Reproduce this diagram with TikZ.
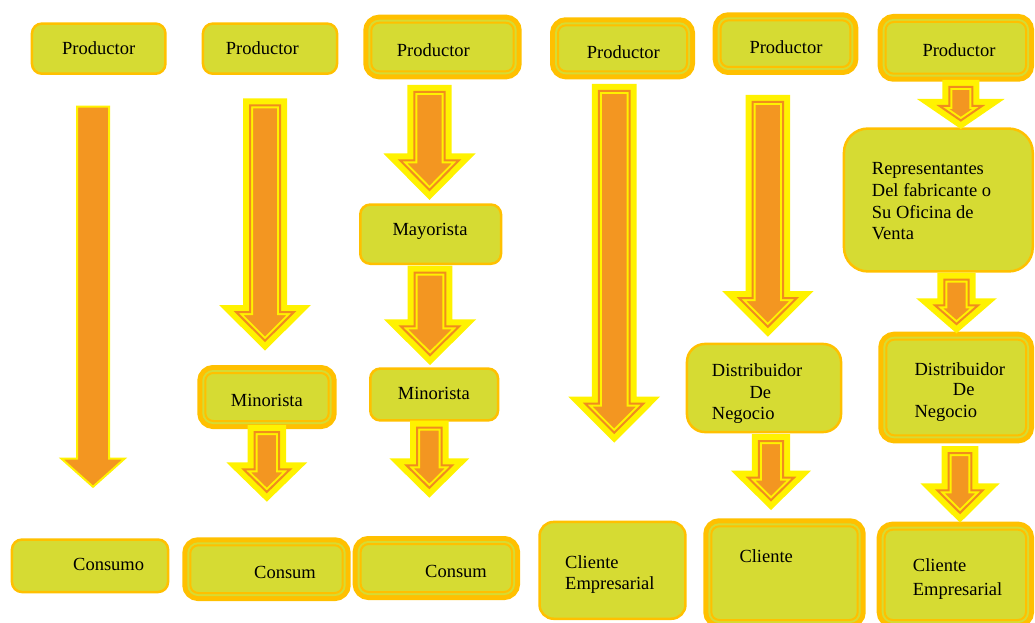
\documentclass[tikz,border=0pt]{standalone}
\usepackage{fontspec}
\setmainfont{Liberation Serif}
\definecolor{boxfill}{RGB}{214,219,51}
\definecolor{gold}{RGB}{255,192,0}
\definecolor{arrorange}{RGB}{243,150,33}
\definecolor{arrline}{RGB}{240,140,30}
\newcommand\tl[1]{\begin{tabular}[t]{@{}l@{}}#1\end{tabular}}
\tikzset{
 sbox/.style={rectangle, fill=boxfill, draw=gold, line width=2.5pt, inner sep=0pt, outer sep=0pt},
 dbox/.style={rectangle, rounded corners=8pt, fill=boxfill, draw=boxfill, line width=6pt, inner sep=0pt, outer sep=0pt,
   preaction={draw=gold, line width=16pt}, postaction={draw=gold, line width=2pt}},
 txt/.style={inner sep=0pt, anchor=base west, font=\fontsize{18.5}{21.5}\selectfont, text=black},
 farr/.style={fill=arrorange, draw=yellow, line width=6pt,
   preaction={fill=yellow, draw=yellow, line width=14pt}, postaction={draw=arrline, line width=2pt}},
 parr/.style={fill=arrorange, draw=yellow, line width=2pt},
}
% simple box: [radius]{x1}{y1}{x2}{y2}{name}
\newcommand\mkS[6][10]{\node[sbox, rounded corners=#1pt, minimum width={#4-#2-2.5}, minimum height={#5-#3-2.5}] (#6) at ({(#2+#4)/2},{(#3+#5)/2}) {};}
% double box: {x1}{y1}{x2}{y2}{name}
\newcommand\mkD[5]{\node[dbox, minimum width={#3-#1-16}, minimum height={#4-#2-16}] (#5) at ({(#1+#3)/2},{(#2+#4)/2}) {};}
% fancy arrow: {cx}{top}{headY}{tip}{shaft half}{head half} (outer sizes)
\newcommand\farrow[6]{%
 \pgfmathsetmacro\aT{#2+7}%
 \pgfmathsetmacro\aH{#3+7}%
 \pgfmathsetmacro\aTh{atan2(#4-#3,#6)}%
 \pgfmathsetmacro\aP{#4-7/cos(\aTh)}%
 \pgfmathsetmacro\aS{#5-7}%
 \pgfmathsetmacro\aW{#6-7/tan(\aTh/2)}%
 \path[farr] (#1-\aS,\aT) -- (#1+\aS,\aT) -- (#1+\aS,\aH) -- (#1+\aW,\aH) -- (#1,\aP) -- (#1-\aW,\aH) -- (#1-\aS,\aH) -- cycle;}
\begin{document}
\begin{tikzpicture}[x=1pt,y=-1pt]
\useasboundingbox (0,0) rectangle (1035,623);
\clip (0,0) rectangle (1035,623);
% column 1
\mkS{30.7}{22.3}{166.7}{75}{b1a}
\mkS{10.7}{538.3}{169.3}{593.3}{b1b}
% column 2
\mkS{201.7}{22.3}{338.3}{75}{b2a}
\mkD{197.3}{365}{336.7}{429}{b2b}
\mkD{182.3}{537.3}{350.7}{601}{b2c}
% column 3
\mkD{363.3}{14.7}{521.7}{79.3}{b3a}
\mkS{359}{203.3}{502.3}{265}{b3b}
\mkS{369}{367.3}{499.3}{421.7}{b3c}
\mkD{352.7}{536}{520}{600}{b3d}
% column 4
\mkD{550}{17.3}{695}{79.3}{b4a}
\mkS[14]{538.3}{520.7}{686.7}{620}{b4b}
% column 5
\mkD{712.7}{12.3}{858.3}{75}{b5a}
\mkS[18]{685.7}{342.7}{842.3}{433.3}{b5b}
\mkD{703.3}{518.3}{865.7}{628}{b5c}
% column 6
\mkD{877.7}{14}{1034}{81.7}{b6a}
\mkS[24]{842.7}{127.3}{1034}{272.7}{b6b}
\mkD{878.3}{331.7}{1034}{443.3}{b6c}
\mkD{876.7}{521.7}{1034}{628}{b6d}

% arrows
\path[parr] (77,106.7) -- (109,106.7) -- (109,458.7) -- (124.5,458.7) -- (93,486.8) -- (61.5,458.7) -- (77,458.7) -- cycle;
\farrow{265}{98.3}{305}{350.7}{22}{45.8}
\farrow{266.8}{425}{462.3}{501.7}{19.2}{40.5}
\farrow{429.5}{85}{153.3}{200}{22.2}{46.2}
\farrow{430}{265.5}{319.3}{365}{22.3}{46.2}
\farrow{429.3}{420.7}{458.3}{497.7}{19.2}{40}
\farrow{614.2}{84}{396.7}{442.7}{22.3}{45.8}
\farrow{767.8}{95}{291}{336.7}{22.2}{45.8}
\farrow{771}{434}{470.7}{510}{19.2}{40}
\farrow{960.8}{80}{99}{129}{18.5}{43.8}
\farrow{956.5}{272.7}{298.3}{333.3}{19.2}{40.3}
\farrow{960}{446}{483.3}{522.7}{18.3}{39.7}

% texts
\node[txt] (t1a) at (62,54.3) {Productor};
\node[txt] (t1b) at (73,570.7) {Consumo};
\node[txt] (t2a) at (225.7,54.3) {Productor};
\node[txt] (t2b) at (230.7,406.7) {Minorista};
\node[txt] (t2c) at (254,578.3) {Consum};
\node[txt] (t3a) at (396.7,56.7) {Productor};
\node[txt] (t3b) at (392.3,235.7) {Mayorista};
\node[txt] (t3c) at (397.7,399) {Minorista};
\node[txt] (t3d) at (425,577.3) {Consum};
\node[txt] (t4a) at (586.7,58.3) {Productor};
\node[txt] (t4b) at (565,568.3) {\tl{Cliente\\[-0.5pt]Empresarial}};
\node[txt] (t5a) at (749.3,54) {Productor};
\node[txt] (t5b) at (711.7,376.7) {\tl{Distribuidor\\\hspace*{37.6pt}De\\Negocio}};
\node[txt] (t5c) at (739.3,562.3) {Cliente};
\node[txt] (t6a) at (922.3,56.7) {Productor};
\node[txt] (t6b) at (871.7,174) {\tl{Representantes\\[0.6pt]Del fabricante o\\[0.6pt]Su Oficina de\\[-0.5pt]Venta}};
\node[txt] (t6c) at (914.3,375) {\tl{Distribuidor\\[-1pt]\hspace*{38.4pt}De\\Negocio}};
\node[txt] (t6d) at (912.7,571.7) {\tl{Cliente\\[1.8pt]Empresarial}};
\end{tikzpicture}
\end{document}
